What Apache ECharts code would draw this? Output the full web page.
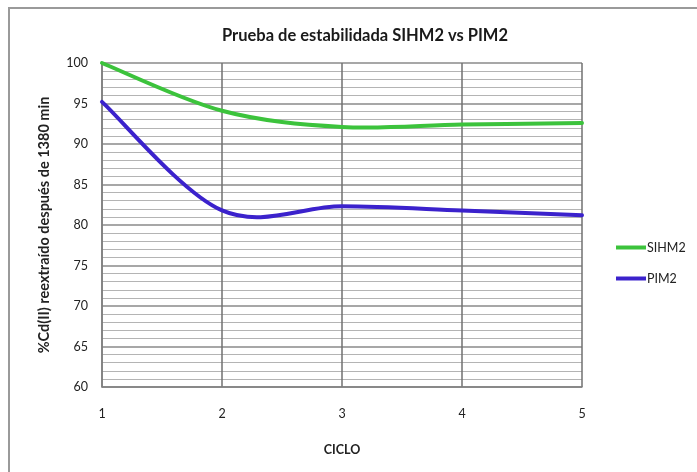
<!DOCTYPE html>
<html>
<head>
<meta charset="utf-8">
<script src="https://cdn.jsdelivr.net/npm/echarts@6/dist/echarts.min.js"></script>
<style>
  html, body { margin: 0; padding: 0; background: #fff; }
  #chart { width: 697px; height: 472px; }
</style>
</head>
<body>
<div id="chart"></div>
<script>
// Cycle numbers on the x axis
const ciclos = [1, 2, 3, 4, 5];
// % Cd(II) re-extracted after 1380 min, per cycle
const sihm2 = [100, 94.1, 92.1, 92.4, 92.6];
const pim2 = [95.2, 81.8, 82.3, 81.8, 81.2];
// Y tick range
const yTicks = [60, 65, 70, 75, 80, 85, 90, 95, 100];

const FONT = 'Lato, "Open Sans", sans-serif';

// Smoothed curve (Catmull-Rom as cubic Bezier) through the points,
// mapped to pixels by the chart's own axes.
function smoothCurve(values, color) {
  return function (params, api) {
    const p = ciclos.map((c, i) => api.coord([c, values[i]]));
    const n = p.length;
    let d = 'M' + p[0][0] + ' ' + p[0][1];
    for (let i = 0; i < n - 1; i++) {
      const p0 = p[Math.max(i - 1, 0)];
      const p1 = p[i];
      const p2 = p[i + 1];
      const p3 = p[Math.min(i + 2, n - 1)];
      const c1x = p1[0] + (p2[0] - p0[0]) / 6;
      const c1y = p1[1] + (p2[1] - p0[1]) / 6;
      const c2x = p2[0] - (p3[0] - p1[0]) / 6;
      const c2y = p2[1] - (p3[1] - p1[1]) / 6;
      d += ' C' + c1x + ' ' + c1y + ' ' + c2x + ' ' + c2y + ' ' + p2[0] + ' ' + p2[1];
    }
    return {
      type: 'path',
      shape: { pathData: d },
      style: { fill: 'none', stroke: color, lineWidth: 4, lineCap: 'round', lineJoin: 'round' },
      silent: true
    };
  };
}

const GREEN = '#3cc33c';
const BLUE = '#3b22cc';

const chart = echarts.init(document.getElementById('chart'), null, { renderer: 'canvas' });

chart.setOption({
  backgroundColor: '#ffffff',
  animation: false,
  graphic: [{
    type: 'rect',
    shape: { x: 9, y: 8, width: 720, height: 500 },
    style: { fill: 'none', stroke: '#9a9a9a', lineWidth: 2 },
    silent: true
  }],
  title: {
    text: 'Prueba de estabilidada SIHM2 vs PIM2',
    left: 360,
    textAlign: 'center',
    top: 22,
    textStyle: { fontFamily: FONT, fontSize: 16.5, fontWeight: 'bold', color: '#1a1a1a' }
  },
  legend: {
    orient: 'vertical',
    left: 611,
    top: 236,
    itemWidth: 30,
    itemHeight: 4,
    itemGap: 18,
    icon: 'rect',
    textStyle: { fontFamily: FONT, fontSize: 12.5, color: '#222', padding: [0, 0, 0, -4] },
    data: ['SIHM2', 'PIM2']
  },
  grid: { left: 102, right: 115, top: 63, bottom: 85 },
  xAxis: {
    type: 'value',
    min: ciclos[0],
    max: ciclos[ciclos.length - 1],
    interval: 1,
    name: 'CICLO',
    nameLocation: 'middle',
    nameGap: 56,
    nameTextStyle: { fontFamily: FONT, fontSize: 12.5, fontWeight: 'bold', color: '#222' },
    axisLine: { show: true, lineStyle: { color: '#808080', width: 1.5 } },
    axisTick: { show: false },
    axisLabel: { margin: 20, fontFamily: FONT, fontSize: 12.5, color: '#222' },
    splitLine: { show: true, lineStyle: { color: '#707070', width: 1.5 } }
  },
  yAxis: {
    type: 'value',
    min: yTicks[0],
    max: yTicks[yTicks.length - 1],
    interval: 5,
    name: '%Cd(II) reextraído después de 1380 min',
    nameLocation: 'middle',
    nameGap: 50,
    nameRotate: 90,
    nameTextStyle: { fontFamily: FONT, fontSize: 14.5, fontWeight: 'bold', color: '#222' },
    axisLine: { show: true, lineStyle: { color: '#808080', width: 1.5 } },
    axisTick: { show: false },
    axisLabel: { margin: 14, fontFamily: FONT, fontSize: 12.5, color: '#222' },
    splitLine: { show: true, lineStyle: { color: '#8a8a8a', width: 1.5 } },
    minorTick: { show: false, splitNumber: 5 },
    minorSplitLine: { show: true, lineStyle: { color: '#b4b4b4', width: 1 } }
  },
  series: [
    {
      name: 'SIHM2',
      type: 'custom',
      renderItem: smoothCurve(sihm2, GREEN),
      itemStyle: { color: GREEN },
      encode: { x: 0, y: 1 },
      data: ciclos.slice(0, 1).map((c) => [c, sihm2[0]])
    },
    {
      name: 'PIM2',
      type: 'custom',
      renderItem: smoothCurve(pim2, BLUE),
      itemStyle: { color: BLUE },
      encode: { x: 0, y: 1 },
      data: ciclos.slice(0, 1).map((c) => [c, pim2[0]])
    }
  ]
});
</script>
</body>
</html>
